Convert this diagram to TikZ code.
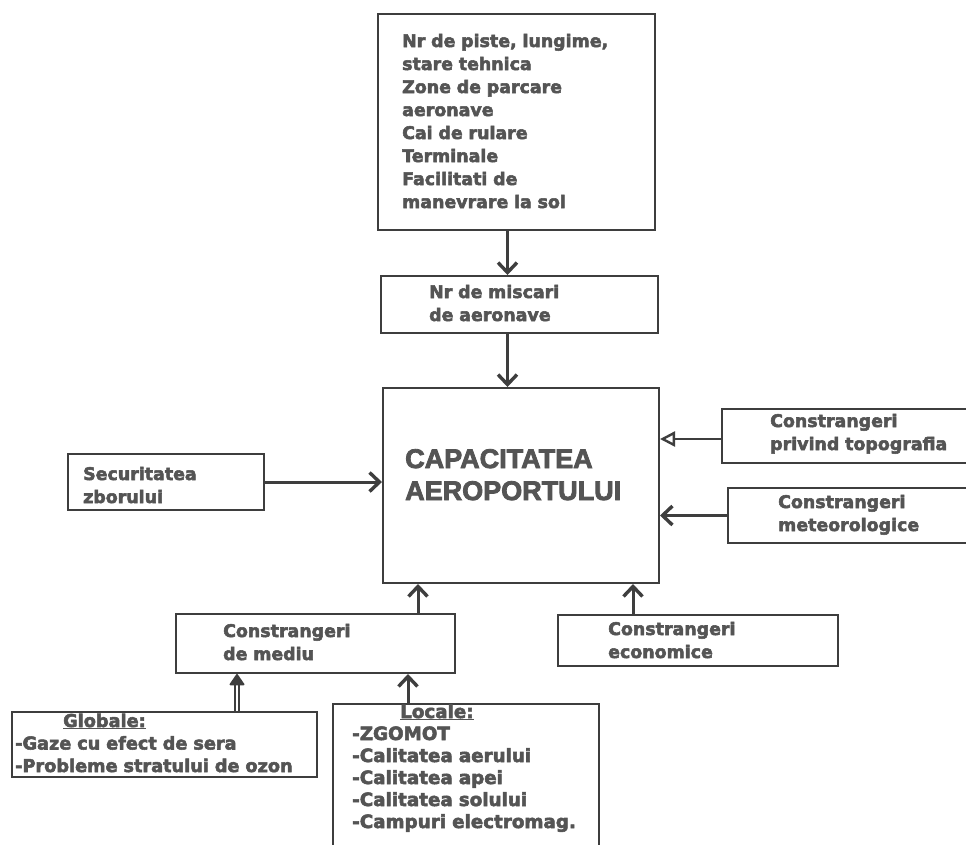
\documentclass[tikz,border=0pt]{standalone}
\usepackage{fontspec}
\setmainfont{DejaVu Sans}[BoldFeatures={FakeBold=3}]
\newfontfamily\titlefont{Liberation Sans}[BoldFeatures={FakeBold=3}]
\usetikzlibrary{arrows.meta}
\definecolor{ink}{RGB}{84,84,84}
\definecolor{edge}{RGB}{62,62,62}
\begin{document}
\begin{tikzpicture}[x=1pt,y=-1pt,
  box/.style={draw=edge, line width=2pt, inner sep=0pt, anchor=north west},
  txt/.style={anchor=base west, inner sep=0pt, align=left, text width=320pt, text=ink,
              font=\fontsize{17.4}{23}\selectfont\bfseries},
  arr/.style={draw=edge, line width=3pt, -{Straight Barb[length=10pt,width=19pt,line width=3.4pt]}},
  openarr/.style={draw=edge, line width=2.4pt, -{Triangle[open,length=15pt,width=15pt,line width=2.4pt]}},
  dblarr/.style={draw=edge, double=white, double distance=2pt, line width=1.8pt,
                 -{Triangle[length=12pt,width=16pt,round]}},
]
\useasboundingbox[fill=white] (0,0) rectangle (966,844);

% boxes
\node[box, minimum width=277pt, minimum height=216pt] (top) at (377,13) {};
\node[box, minimum width=277pt, minimum height=57pt]  (mov) at (380,275) {};
\node[box, minimum width=276pt, minimum height=195pt] (cap) at (382,387) {};
\node[box, minimum width=196pt, minimum height=56pt]  (sec) at (67,453) {};
\node[box, minimum width=255pt, minimum height=54pt]  (topo) at (721,408) {};
\node[box, minimum width=250pt, minimum height=55pt]  (met) at (727,487) {};
\node[box, minimum width=280pt, minimum height=51pt]  (eco) at (557,614) {};
\node[box, minimum width=279pt, minimum height=59pt]  (med) at (175,613) {};
\node[box, minimum width=305pt, minimum height=65pt]  (glob) at (11,711) {};
\node[box, minimum width=266pt, minimum height=160pt] (loc) at (332,703) {};

% texts
\node[txt] (topT) at (402,47) {Nr de piste, lungime,\\stare tehnica\\Zone de parcare\\aeronave\\Cai de rulare\\Terminale\\Facilitati de\\manevrare la sol};
\node[txt] (movT) at (429,298) {Nr de miscari\\de aeronave};
\node[txt, font=\titlefont\fontsize{27}{32}\selectfont\bfseries] (capT) at (405,468) {CAPACITATEA\\AEROPORTULUI};
\node[txt] (secT) at (83,480) {Securitatea\\zborului};
\node[txt] (topoT) at (770,427) {Constrangeri\\privind topografia};
\node[txt] (metT) at (778,508) {Constrangeri\\meteorologice};
\node[txt] (ecoT) at (608,635) {Constrangeri\\economice};
\node[txt] (medT) at (223,637) {Constrangeri\\de mediu};
\node[txt, font=\fontsize{17.7}{22.5}\selectfont\bfseries] (globT) at (15,727)
  {\hspace*{48pt}\underline{Globale:}\\-Gaze cu efect de sera\\-Probleme stratului de ozon};
\node[txt, font=\fontsize{18.3}{22}\selectfont\bfseries] (locT) at (352,718)
  {\hspace*{48pt}\underline{Locale:}\\-ZGOMOT\\-Calitatea aerului\\-Calitatea apei\\-Calitatea solului\\-Campuri electromag.};

% connectors
\draw[arr] ([xshift=-9pt]top.south) -- ([xshift=-9pt]top.south |- mov.north);
\draw[arr] ([xshift=-12pt]mov.south) -- ([xshift=-12pt]mov.south |- cap.north);
\draw[arr] (sec.east) -- (sec.east -| cap.west);
\draw[openarr] ([yshift=-3pt]topo.west) -- ([yshift=-3pt]topo.west -| cap.east);
\draw[arr] (met.west) -- (met.west -| cap.east);
\draw[arr] ([xshift=-65pt]eco.north) -- ([xshift=-65pt]eco.north |- cap.south);
\draw[arr] ([xshift=102.5pt]med.north) -- ([xshift=102.5pt]med.north |- cap.south);
\draw[dblarr] ([xshift=72.5pt]glob.north) -- ([xshift=72.5pt]glob.north |- med.south);
\draw[arr] ([xshift=-58pt]loc.north) -- ([xshift=-58pt]loc.north |- med.south);
\end{tikzpicture}
\end{document}
